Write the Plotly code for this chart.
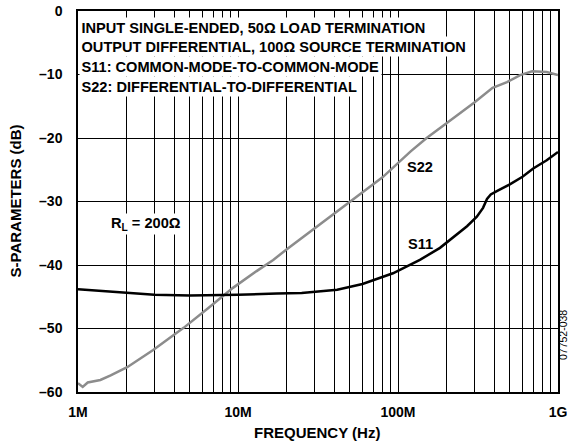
import math
import plotly.graph_objects as go

# S11 (black) frequency in Hz and dB
s11_f = [1e6, 1.5e6, 2e6, 3e6, 5e6, 7e6, 10e6, 17.5e6, 25e6, 41.7e6, 60e6, 93e6, 137e6, 183e6,
         230e6, 270e6, 311e6, 340e6, 360e6, 380e6, 420e6, 500e6, 600e6, 700e6, 850e6, 1e9]
s11_db = [-43.8, -44.1, -44.4, -44.7, -44.8, -44.8, -44.7, -44.5, -44.4, -43.9, -43.0, -41.3, -39.2, -37.3,
          -35.3, -33.9, -32.4, -31.0, -29.6, -28.9, -28.3, -27.3, -26.1, -24.8, -23.5, -22.2]

# S22 (gray)
s22_f = [1e6, 1.07e6, 1.15e6, 1.38e6, 1.6e6, 2.03e6, 2.95e6, 4.57e6, 6.5e6, 9.3e6, 13e6, 16.6e6,
         20e6, 30e6, 50e6, 80e6, 120e6, 151e6, 200e6, 245e6, 300e6, 390e6, 480e6, 580e6, 690e6,
         850e6, 1e9]
s22_db = [-58.6, -59.2, -58.5, -58.1, -57.4, -56.1, -53.4, -49.9, -46.8, -43.6, -41.0, -39.2,
          -37.6, -34.3, -30.1, -26.2, -22.1, -20.0, -17.7, -16.1, -14.4, -12.1, -11.2, -10.1, -9.5,
          -9.6, -10.1]

x_ticks = [1e6, 1e7, 1e8, 1e9]
x_labels = ["1M", "10M", "100M", "1G"]
y_ticks = [0, -10, -20, -30, -40, -50, -60]
y_labels = ["0", "–10", "–20", "–30", "–40", "–50", "–60"]
minor_x = [m * d for d in [1e6, 1e7, 1e8] for m in range(2, 10)]

notes = ["INPUT SINGLE-ENDED, 50Ω LOAD TERMINATION",
         "OUTPUT DIFFERENTIAL, 100Ω SOURCE TERMINATION",
         "S11: COMMON-MODE-TO-COMMON-MODE",
         "S22: DIFFERENTIAL-TO-DIFFERENTIAL"]

FONT = "Liberation Sans, Arial, sans-serif"


def bold(size):
    return dict(family=FONT, size=size, color="black", weight="bold")


fig = go.Figure()
fig.add_trace(go.Scatter(x=s22_f, y=s22_db, mode="lines", line=dict(color="#8c8c8c", width=2.5),
                         showlegend=False))
fig.add_trace(go.Scatter(x=s11_f, y=s11_db, mode="lines", line=dict(color="black", width=2.5),
                         showlegend=False))

fig.update_layout(
    width=569, height=446,
    margin=dict(l=78, r=11, t=11, b=54),
    paper_bgcolor="white", plot_bgcolor="white",
    font=dict(family=FONT, size=12, color="black"),
    xaxis=dict(type="log", range=[6, 9], tickvals=x_ticks, ticktext=x_labels,
               showgrid=True, gridcolor="black", gridwidth=1,
               minor=dict(tickvals=minor_x, showgrid=True, gridcolor="black", gridwidth=1, ticks=""),
               showline=True, linecolor="black", linewidth=1.5, mirror=True, ticks="",
               tickfont=bold(14), ticklabelstandoff=6, automargin=False, zeroline=False),
    yaxis=dict(range=[-60, 0], tickvals=y_ticks, ticktext=y_labels,
               showgrid=True, gridcolor="black", gridwidth=1,
               showline=True, linecolor="black", linewidth=1.5, mirror=True, ticks="",
               tickfont=bold(14), ticklabelstandoff=11, automargin=False, zeroline=False),
)

for i, t in enumerate(notes):
    fig.add_annotation(xref="paper", yref="paper", x=0.003, y=1 - (16 + 19.7 * i) / 381,
                       text=t, showarrow=False, xanchor="left", yanchor="middle",
                       bgcolor="white", borderpad=1.5, font=bold(14.6))

fig.add_annotation(x=math.log10(138e6), y=-24.6, xref="x", yref="y", text="S22", showarrow=False,
                   xanchor="center", font=bold(14.6))
fig.add_annotation(x=math.log10(138e6), y=-36.7, xref="x", yref="y", text="S11", showarrow=False,
                   xanchor="center", font=bold(14.6))
fig.add_annotation(x=math.log10(2.65e6), y=-33.6, xref="x", yref="y", text="R<sub>L</sub> = 200Ω",
                   showarrow=False, xanchor="center", bgcolor="white", font=bold(14.6))

fig.add_annotation(xref="paper", yref="paper", x=(317 - 78) / 480, y=(392 - 432) / 381,
                   text="FREQUENCY (Hz)", showarrow=False, xanchor="center", yanchor="middle",
                   font=bold(15))
fig.add_annotation(xref="paper", yref="paper", x=(15 - 78) / 480, y=0.5,
                   text="S-PARAMETERS (dB)", showarrow=False, textangle=-90,
                   xanchor="center", yanchor="middle", font=bold(15))
fig.add_annotation(xref="paper", yref="paper", x=(563 - 78) / 480, y=(392 - 335) / 381,
                   text="07752-038", textangle=-90, xanchor="center", yanchor="middle",
                   showarrow=False, font=dict(family=FONT, size=10.5, color="black"))

fig.write_html("out.html", config={"displayModeBar": False},
               post_script="document.body.style.margin='0';")
